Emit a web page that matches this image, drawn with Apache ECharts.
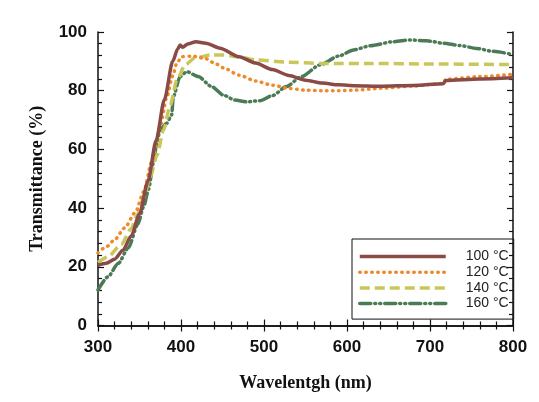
<!DOCTYPE html>
<html>
<head>
<meta charset="utf-8">
<script src="https://cdn.jsdelivr.net/npm/echarts@6/dist/echarts.min.js"></script>
<style>
html,body{margin:0;padding:0;background:#fff;}
#chart{width:539px;height:402px;}
</style>
</head>
<body>
<div id="chart"></div>
<script>
// ---- data ----
const seriesNames = ['100 °C', '120 °C', '140 °C', '160 °C'];

const wl100 = [300, 310, 320, 330, 340, 350, 360, 370, 380, 390, 396, 399, 402, 408, 418, 430, 447, 470, 490, 510, 530, 550, 570, 590, 610, 640, 680, 716, 719, 760, 800];
const t100  = [20.5, 21.2, 22.6, 25.6, 30.5, 38, 49, 63, 77, 90, 94.2, 95.6, 94.8, 95.9, 96.7, 96.2, 94.5, 91.6, 89.4, 87.2, 85.2, 83.6, 82.6, 82, 81.7, 81.5, 81.8, 82.4, 83.5, 84, 84.4];

const wl120 = [300, 310, 320, 332, 345, 355, 365, 375, 383, 390, 395, 401, 413, 429, 441, 451, 470, 490, 510, 530, 550, 570, 590, 610, 640, 680, 716, 719, 760, 800];
const t120  = [24.7, 26.8, 29.2, 33.2, 38.5, 45.5, 56, 68, 78, 85, 89.5, 91.6, 91.8, 91, 89.3, 87.8, 85.3, 83.3, 81.9, 80.8, 80.2, 80, 80, 80.2, 80.8, 81.6, 82.5, 83.9, 84.8, 85.6];

const wl140 = [300, 312, 328, 340, 347, 355, 363, 371, 379, 387, 395, 405, 417, 437, 451, 470, 490, 530, 570, 630, 700, 800];
const t140  = [21.5, 23.4, 27.6, 33, 37.5, 43.5, 50.7, 58, 66.6, 75, 83.6, 88.8, 91.2, 92.2, 92.2, 91.5, 90.5, 89.7, 89.3, 89.3, 89.1, 88.9];

const wl160 = [300, 312, 324.5, 336.6, 348, 355, 361, 366.6, 370.7, 374.7, 382.7, 388.7, 390.8, 398.8, 406.9, 420.8, 437, 451, 465, 479, 495, 510, 527, 545, 567.5, 590, 608, 628, 656, 676, 696, 716, 736, 756, 776, 800];
const t160  = [12.1, 16.6, 21.2, 26.5, 34.5, 40.5, 46.5, 55.3, 62, 66.6, 68.9, 71.7, 78, 84.8, 86.5, 84.8, 81.4, 78.5, 76.8, 76.2, 76.6, 78.3, 81.4, 84.8, 88.8, 91.8, 93.9, 95.3, 96.7, 97.3, 97, 96.2, 95.4, 94.4, 93.4, 92.3];

const xTicks = [300, 400, 500, 600, 700, 800];
const yTicks = [0, 20, 40, 60, 80, 100];

// ---- chart ----
function pairs(xs, ys){ return xs.map((x,i)=>[x, ys[i]]); }

const colors = ['#8a4b47', '#ee8a2c', '#c9c75a', '#4b7a57'];
const dashes = ['solid', [0.5, 5.5], [10, 5], [11, 4, 1, 4, 1, 4]];
const caps = ['butt', 'round', 'butt', 'round'];
const datas = [pairs(wl100,t100), pairs(wl120,t120), pairs(wl140,t140), pairs(wl160,t160)];

const tickFont = {fontFamily:'Liberation Sans, Arial', fontWeight:'bold', fontSize:17, color:'#111'};
const titleFont = {fontFamily:'Liberation Serif, Times New Roman', fontWeight:'bold', color:'#111'};

const axisLine = {show:true, lineStyle:{color:'#111', width:1.5}};
const tickStyle = {show:true, inside:true, length:6, lineStyle:{color:'#111', width:1.2}};
const minorStyle = {show:true, splitNumber:5, length:4, lineStyle:{color:'#111', width:1.2}};

const chart = echarts.init(document.getElementById('chart'), null, {renderer:'canvas'});
chart.setOption({
  animation:false,
  backgroundColor:'#fff',
  grid:{left:98, right:26, top:32, bottom:76.5, containLabel:false},
  legend:{
    left:352, top:239, orient:'vertical',
    data: seriesNames,
    itemWidth:86, itemHeight:12, itemGap:0.7,
    padding:[10,5,8,6],
    borderColor:'#111', borderWidth:1,
    itemStyle:{opacity:0, color:'rgba(0,0,0,0)', borderWidth:0},
    lineStyle:{width:3.5},
    textStyle:{fontFamily:'Liberation Sans, Arial', fontSize:14, color:'#222', padding:[0,0,0,15], lineHeight:15}
  },
  xAxis:[{
    type:'value', min:xTicks[0], max:xTicks[xTicks.length-1], interval:100,
    position:'bottom',
    name:'Wavelentgh (nm)', nameLocation:'middle', nameGap:49,
    nameTextStyle:Object.assign({fontSize:18}, titleFont),
    axisLine:axisLine, axisTick:tickStyle, minorTick:minorStyle,
    axisLabel:Object.assign({margin:13}, tickFont),
    splitLine:{show:false}
  },{
    type:'value', min:xTicks[0], max:xTicks[xTicks.length-1], interval:100,
    position:'top',
    axisLine:axisLine, axisTick:tickStyle, minorTick:minorStyle,
    axisLabel:{show:false},
    splitLine:{show:false}
  }],
  yAxis:[{
    type:'value', min:yTicks[0], max:yTicks[yTicks.length-1], interval:20,
    position:'left',
    name:'Transmittance (%)', nameLocation:'middle', nameGap:52, nameRotate:90,
    nameTextStyle:Object.assign({fontSize:18}, titleFont),
    axisLine:axisLine, axisTick:tickStyle, minorTick:minorStyle,
    axisLabel:Object.assign({margin:11}, tickFont),
    splitLine:{show:false}
  },{
    type:'value', min:yTicks[0], max:yTicks[yTicks.length-1], interval:20,
    position:'right',
    axisLine:axisLine, axisTick:tickStyle, minorTick:minorStyle,
    axisLabel:{show:false},
    splitLine:{show:false}
  }],
  series: seriesNames.map((n,i)=>({
    name:n, type:'line', xAxisIndex:0, yAxisIndex:0,
    data:datas[i], symbol:'none', smooth:0.25, smoothMonotone:'x',
    z: 10 - i,
    lineStyle:{color:colors[i], width:3.5, type:dashes[i], cap:caps[i]},
    itemStyle:{color:colors[i]}
  }))
});
</script>
</body>
</html>
